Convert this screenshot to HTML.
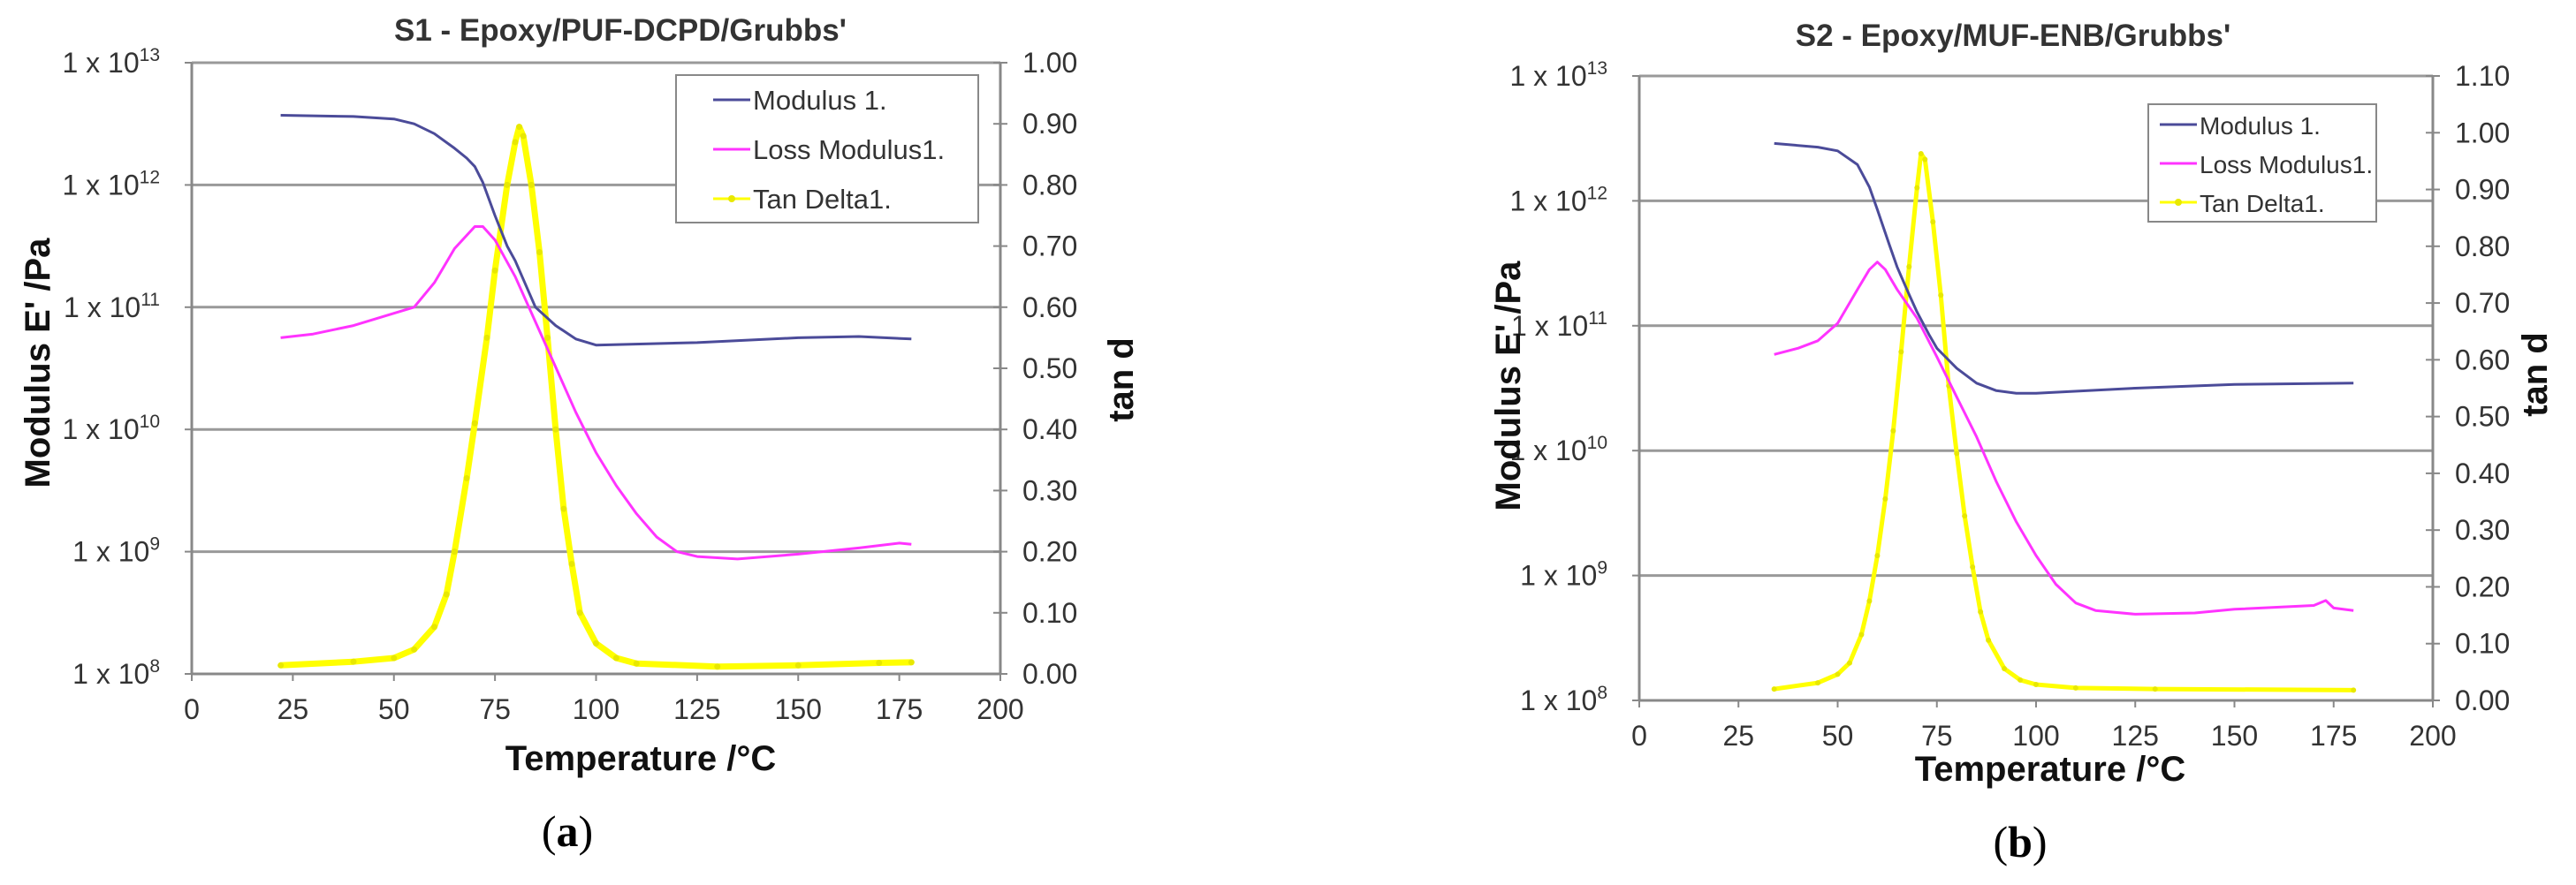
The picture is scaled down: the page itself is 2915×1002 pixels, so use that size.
<!DOCTYPE html>
<html><head><meta charset="utf-8"><style>
html,body{margin:0;padding:0;background:#fff;}
svg{display:block;font-family:"Liberation Sans",Arial,sans-serif;}
</style></head><body>
<svg id="fig" width="2915" height="1002" viewBox="0 0 2915 1002" xmlns="http://www.w3.org/2000/svg">
<rect width="2915" height="1002" fill="#fff"/>
<g id="panelA"></g>
<g id="panelB"></g>
<text x="642" y="958" font-family="Liberation Serif,serif" font-size="50" text-anchor="middle">(<tspan font-weight="bold">a</tspan>)</text>
<text x="2286" y="970" font-family="Liberation Serif,serif" font-size="50" text-anchor="middle">(<tspan font-weight="bold">b</tspan>)</text>
</svg>
<script>
// Panel A data (temperature °C, log10 modulus Pa, tan delta)
const aStorageT=[22,40,50,55,60,65,68,70,72,75,78,80,85,90,95,100,125,150,165,178];
const aStorageLog=[12.57,12.56,12.54,12.5,12.42,12.3,12.22,12.15,12.02,11.75,11.5,11.38,11.0,10.85,10.74,10.69,10.71,10.75,10.76,10.74];
const aLossT=[22,30,40,50,55,60,65,70,72,75,80,85,90,95,100,105,110,115,120,125,135,150,165,175,178];
const aLossLog=[10.75,10.78,10.85,10.95,11.0,11.2,11.48,11.66,11.66,11.55,11.25,10.88,10.51,10.14,9.81,9.54,9.31,9.12,9.0,8.96,8.94,8.98,9.03,9.07,9.06];
const aTanT=[22,40,50,55,60,63,65,68,70,73,75,78,80,81,82,84,86,88,90,92,94,96,100,105,110,130,150,170,178];
const aTan=[0.014,0.02,0.026,0.04,0.077,0.13,0.2,0.32,0.41,0.55,0.66,0.80,0.87,0.895,0.88,0.80,0.69,0.55,0.40,0.27,0.18,0.10,0.05,0.026,0.017,0.012,0.014,0.018,0.019];
// Panel B data
const bStorageT=[34,45,50,55,58,60,63,65,68,70,73,75,80,85,90,95,100,125,150,180];
const bStorageLog=[12.46,12.43,12.40,12.29,12.11,11.93,11.65,11.47,11.25,11.11,10.93,10.82,10.66,10.54,10.48,10.46,10.46,10.50,10.53,10.54];
const bLossT=[34,40,45,50,55,58,60,62,65,70,75,80,85,90,95,100,105,110,115,125,140,150,170,173,175,180];
const bLossLog=[10.77,10.82,10.88,11.02,11.29,11.45,11.51,11.45,11.29,11.06,10.75,10.43,10.11,9.75,9.43,9.16,8.93,8.78,8.72,8.69,8.70,8.73,8.76,8.80,8.74,8.72];
const bTanT=[34,45,50,53,56,58,60,62,64,66,68,70,71,72,74,76,78,80,82,84,86,88,92,96,100,110,130,180];
const bTan=[0.02,0.031,0.046,0.066,0.116,0.175,0.255,0.355,0.475,0.614,0.764,0.903,0.963,0.953,0.843,0.714,0.554,0.435,0.325,0.235,0.156,0.106,0.056,0.036,0.028,0.022,0.02,0.018];
// Axis ticks
const xTicks=[0,25,50,75,100,125,150,175,200];
const decadeExps=[8,9,10,11,12,13];
const aTanTicks=["0.00","0.10","0.20","0.30","0.40","0.50","0.60","0.70","0.80","0.90","1.00"];
const bTanTicks=["0.00","0.10","0.20","0.30","0.40","0.50","0.60","0.70","0.80","0.90","1.00","1.10"];
const legendLabels=["Modulus 1.","Loss Modulus1.","Tan Delta1."];

const NS="http://www.w3.org/2000/svg";
function mk(parent,tag,attrs,text){const e=document.createElementNS(NS,tag);for(const k in attrs)e.setAttribute(k,attrs[k]);if(text!==undefined)e.textContent=text;parent.appendChild(e);return e;}

function drawPanel(g,cfg){
  const {L,R,T,B,tanMax,tanTicks,title,titleX,titleY,xtX,xtY,ytX,ytY,tdX,tdY,leg,sT,sL,lT,lL,tT,tV,tanW,mk:mr}=cfg;
  const xs=t=>L+(t-0)/200*(R-L);
  const ys=lg=>B-(lg-8)/5*(B-T);
  const yt=v=>B-v/tanMax*(B-T);
  decadeExps.forEach(e=>{ if(e>8){const l=mk(g,'line',{x1:L,x2:R,y1:ys(e),y2:ys(e),stroke:'#999','stroke-width':3});
    
    }
    const t=mk(g,'text',{x:L-36,y:ys(e)+11,'font-size':32,'text-anchor':'end',fill:'#333'});
    
    
    t.textContent='1 x 10';
    mk(t,'tspan',{'font-size':21,dy:-13},String(e));
    mk(g,'line',{x1:L-8,x2:L,y1:ys(e),y2:ys(e),stroke:'#888','stroke-width':2});
  });
  let ax=mk(g,'line',{x1:L,x2:L,y1:T,y2:B,stroke:'#888','stroke-width':3});
  
  ax=mk(g,'line',{x1:R,x2:R,y1:T,y2:B,stroke:'#888','stroke-width':3});
  
  ax=mk(g,'line',{x1:L,x2:R,y1:B,y2:B,stroke:'#888','stroke-width':3});
  
  xTicks.forEach(v=>{mk(g,'line',{x1:xs(v),x2:xs(v),y1:B,y2:B+8,stroke:'#888','stroke-width':2});
    const t=mk(g,'text',{x:xs(v),y:B+51,'font-size':32,'text-anchor':'middle',fill:'#333'},String(v));
    });
  tanTicks.forEach((s,i)=>{const v=i*0.1;mk(g,'line',{x1:R-8,x2:R+8,y1:yt(v),y2:yt(v),stroke:'#888','stroke-width':2});
    const t=mk(g,'text',{x:R+25,y:yt(v)+11,'font-size':32,fill:'#333'},s);
    });
  let t=mk(g,'text',{x:titleX,y:titleY,'font-size':35,'font-weight':'bold','text-anchor':'middle',fill:'#333'},title);
  
  t=mk(g,'text',{x:xtX,y:xtY,'font-size':40,'font-weight':'bold','text-anchor':'middle',fill:'#111'},'Temperature /°C');
  
  t=mk(g,'text',{x:ytX,y:ytY,'font-size':40,'font-weight':'bold','text-anchor':'middle',fill:'#111',transform:`rotate(-90 ${ytX} ${ytY})`},"Modulus E' /Pa");
  
  t=mk(g,'text',{x:tdX,y:tdY,'font-size':40,'font-weight':'bold','text-anchor':'middle',fill:'#111',transform:`rotate(-90 ${tdX} ${tdY})`},'tan d');
  
  const pts=(X,Y,f)=>X.map((x,i)=>xs(x).toFixed(1)+','+f(Y[i]).toFixed(1)).join(' ');
  let p=mk(g,'polyline',{points:pts(tT,tV,yt),fill:'none',stroke:'#ffff00','stroke-width':tanW,'stroke-linejoin':'round'});
  
  tT.forEach((x,i)=>{const c=mk(g,'circle',{cx:xs(x),cy:yt(tV[i]),r:mr,fill:'#e8e800'});
    });
  p=mk(g,'polyline',{points:pts(lT,lL,ys),fill:'none',stroke:'#ff33ff','stroke-width':3,'stroke-linejoin':'round'});
  
  p=mk(g,'polyline',{points:pts(sT,sL,ys),fill:'none',stroke:'#4b4b99','stroke-width':3,'stroke-linejoin':'round'});
  
  const lg=mk(g,'g',{});
  
  mk(lg,'rect',{x:leg.x,y:leg.y,width:leg.w,height:leg.h,fill:'#fff',stroke:'#888','stroke-width':2});
  const cols=['#4b4b99','#ff33ff','#ffff00'];
  legendLabels.forEach((s,i)=>{const yy=leg.ys[i];
    const e=mk(lg,'g',{});
    
    mk(e,'line',{x1:leg.lx,x2:leg.lx+42,y1:yy,y2:yy,stroke:cols[i],'stroke-width':3});
    if(i===2)mk(e,'circle',{cx:leg.lx+21,cy:yy,r:4,fill:'#e8e800'});
    mk(e,'text',{x:leg.lx+45,y:yy+11,'font-size':leg.fs,fill:'#333'},s);});
}
drawPanel(document.getElementById('panelA'),{L:217,R:1132,T:71,B:763,tanMax:1.0,tanTicks:aTanTicks,
  title:"S1 - Epoxy/PUF-DCPD/Grubbs'",titleX:702,titleY:46,xtX:725,xtY:872,ytX:56,ytY:411,tdX:1282,tdY:430,
  leg:{x:765,y:85,w:342,h:167,lx:807,ys:[113,169,225],fs:31},sT:aStorageT,sL:aStorageLog,lT:aLossT,lL:aLossLog,tT:aTanT,tV:aTan,tanW:7,mk:3.5});
drawPanel(document.getElementById('panelB'),{L:1855,R:2753,T:86,B:793,tanMax:1.1,tanTicks:bTanTicks,
  title:"S2 - Epoxy/MUF-ENB/Grubbs'",titleX:2278,titleY:52,xtX:2320,xtY:884,ytX:1720,ytY:437,tdX:2882,tdY:424,
  leg:{x:2431,y:118,w:258,h:133,lx:2444,ys:[141,185,229],fs:28},sT:bStorageT,sL:bStorageLog,lT:bLossT,lL:bLossLog,tT:bTanT,tV:bTan,tanW:5,mk:3});
</script>
</body></html>
